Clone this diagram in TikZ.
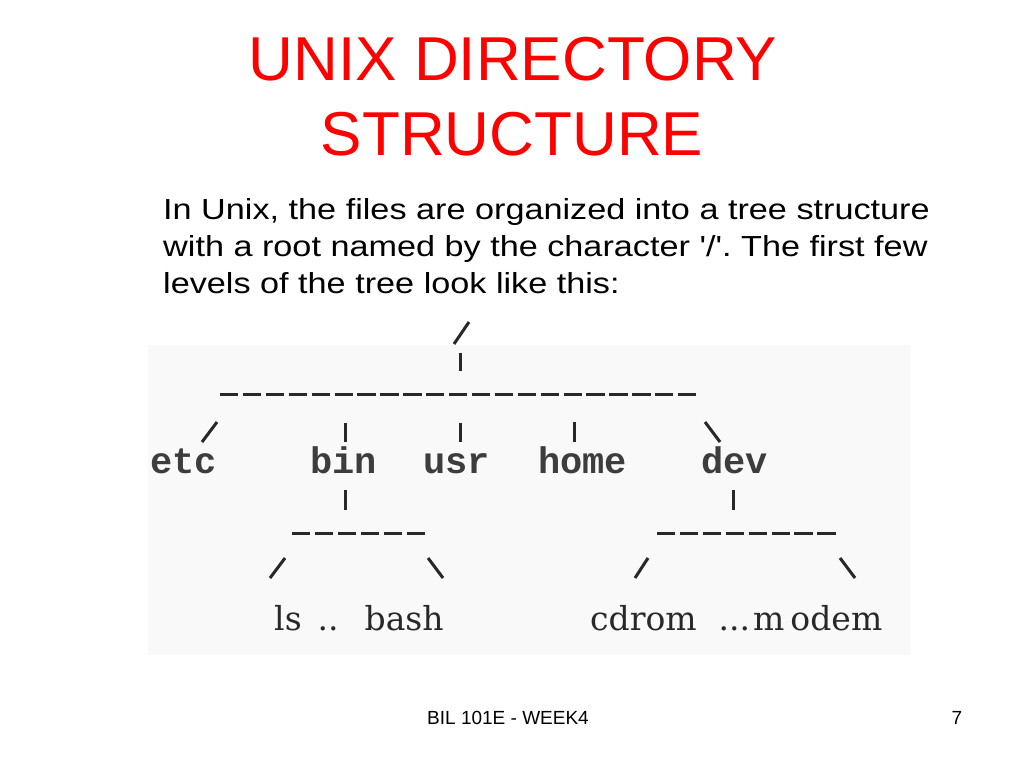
\documentclass[tikz,border=0pt]{standalone}
\usepackage{fontspec}
\setmainfont{Liberation Sans}[Ligatures=TeXOff]
\newfontfamily\monofont{Liberation Mono}
\newfontfamily\seriffont{DejaVu Serif}
\definecolor{titlered}{RGB}{255,0,0}
\definecolor{ink}{RGB}{40,40,40}
\frenchspacing
\tikzset{
  titletext/.style={text=titlered, font=\fontsize{62}{74}\selectfont, anchor=base, inner sep=0pt},
  bodytext/.style={text=black, font=\fontsize{29}{36}\selectfont, anchor=base west, inner sep=0pt},
  foottext/.style={text=black, font=\fontsize{19}{22}\selectfont, anchor=base, inner sep=0pt},
  dirlabel/.style={text=ink!90, font=\monofont\bfseries\fontsize{37}{40}\selectfont, anchor=base west, inner sep=0pt},
  leaflabel/.style={text=ink, font=\seriffont\fontsize{33}{36}\selectfont, anchor=base west, inner sep=0pt},
  asciimark/.style={draw=ink, line width=3pt},
  dashrow/.style={draw=ink, line width=3pt, dash pattern=on 18.3pt off 4.6pt},
}
\newcommand{\bodyline}[1]{\scalebox{1.18}[1]{#1}}
\begin{document}
\begin{tikzpicture}[x=1pt,y=-1pt]
\useasboundingbox (0,0) rectangle (1024,768);
\fill[white] (0,0) rectangle (1024,768);
\fill[black!2.5] (148,345) rectangle (910,655);
% title
\node[titletext] (t1) at (513,81) {UNIX DIRECTORY};
\node[titletext] (t2) at (512,155) {STRUCTURE};
% body
\node[bodytext] (b1) at (163,219) {\bodyline{In Unix, the files are organized into a tree structure}};
\node[bodytext] (b2) at (163,256) {\bodyline{with a root named by the character '/'. The first few}};
\node[bodytext] (b3) at (163,293) {\bodyline{levels of the tree look like this:}};
% tree labels
\node[dirlabel] (etc) at (150,473) {etc};
\node[dirlabel] (bin) at (310,473) {bin};
\node[dirlabel] (usr) at (423,473) {usr};
\node[dirlabel] (home) at (538,473) {home};
\node[dirlabel] (dev) at (701,473) {dev};
\node[leaflabel] (lsbash) at (274,630) {ls\hspace{16pt}..\hspace{26pt}bash};
\node[leaflabel] (cdmodem) at (590,630) {cdrom\hspace{22pt}...\hspace{3pt}m\hspace{6pt}odem};
% ascii marks
\coordinate (r1) at (454,344); \coordinate (r2) at (469,322);
\draw[asciimark] (r1) -- (r2);
\draw[asciimark] (460,353) -- (460,371);
\draw[dashrow] (220,394) -- (696,394);
\draw[asciimark] (202,442) -- (217,422);
\draw[asciimark] (345,423) -- (345,442);
\draw[asciimark] (460,423) -- (460,442);
\draw[asciimark] (574,422) -- (574,442);
\draw[asciimark] (705,422) -- (720,442);
\draw[asciimark] (345,490) -- (345,510);
\draw[asciimark] (733,490) -- (733,510);
\draw[dashrow] (292,533) -- (425,533);
\draw[dashrow] (657,533) -- (836,533);
\draw[asciimark] (270,578) -- (285,558);
\draw[asciimark] (428,558) -- (443,578);
\draw[asciimark] (635,578) -- (648,558);
\draw[asciimark] (840,558) -- (855,578);
% footer
\node[foottext] (foot) at (508,724) {BIL 101E - WEEK4};
\node[foottext] (page) at (957,724) {7};
\end{tikzpicture}
\end{document}
